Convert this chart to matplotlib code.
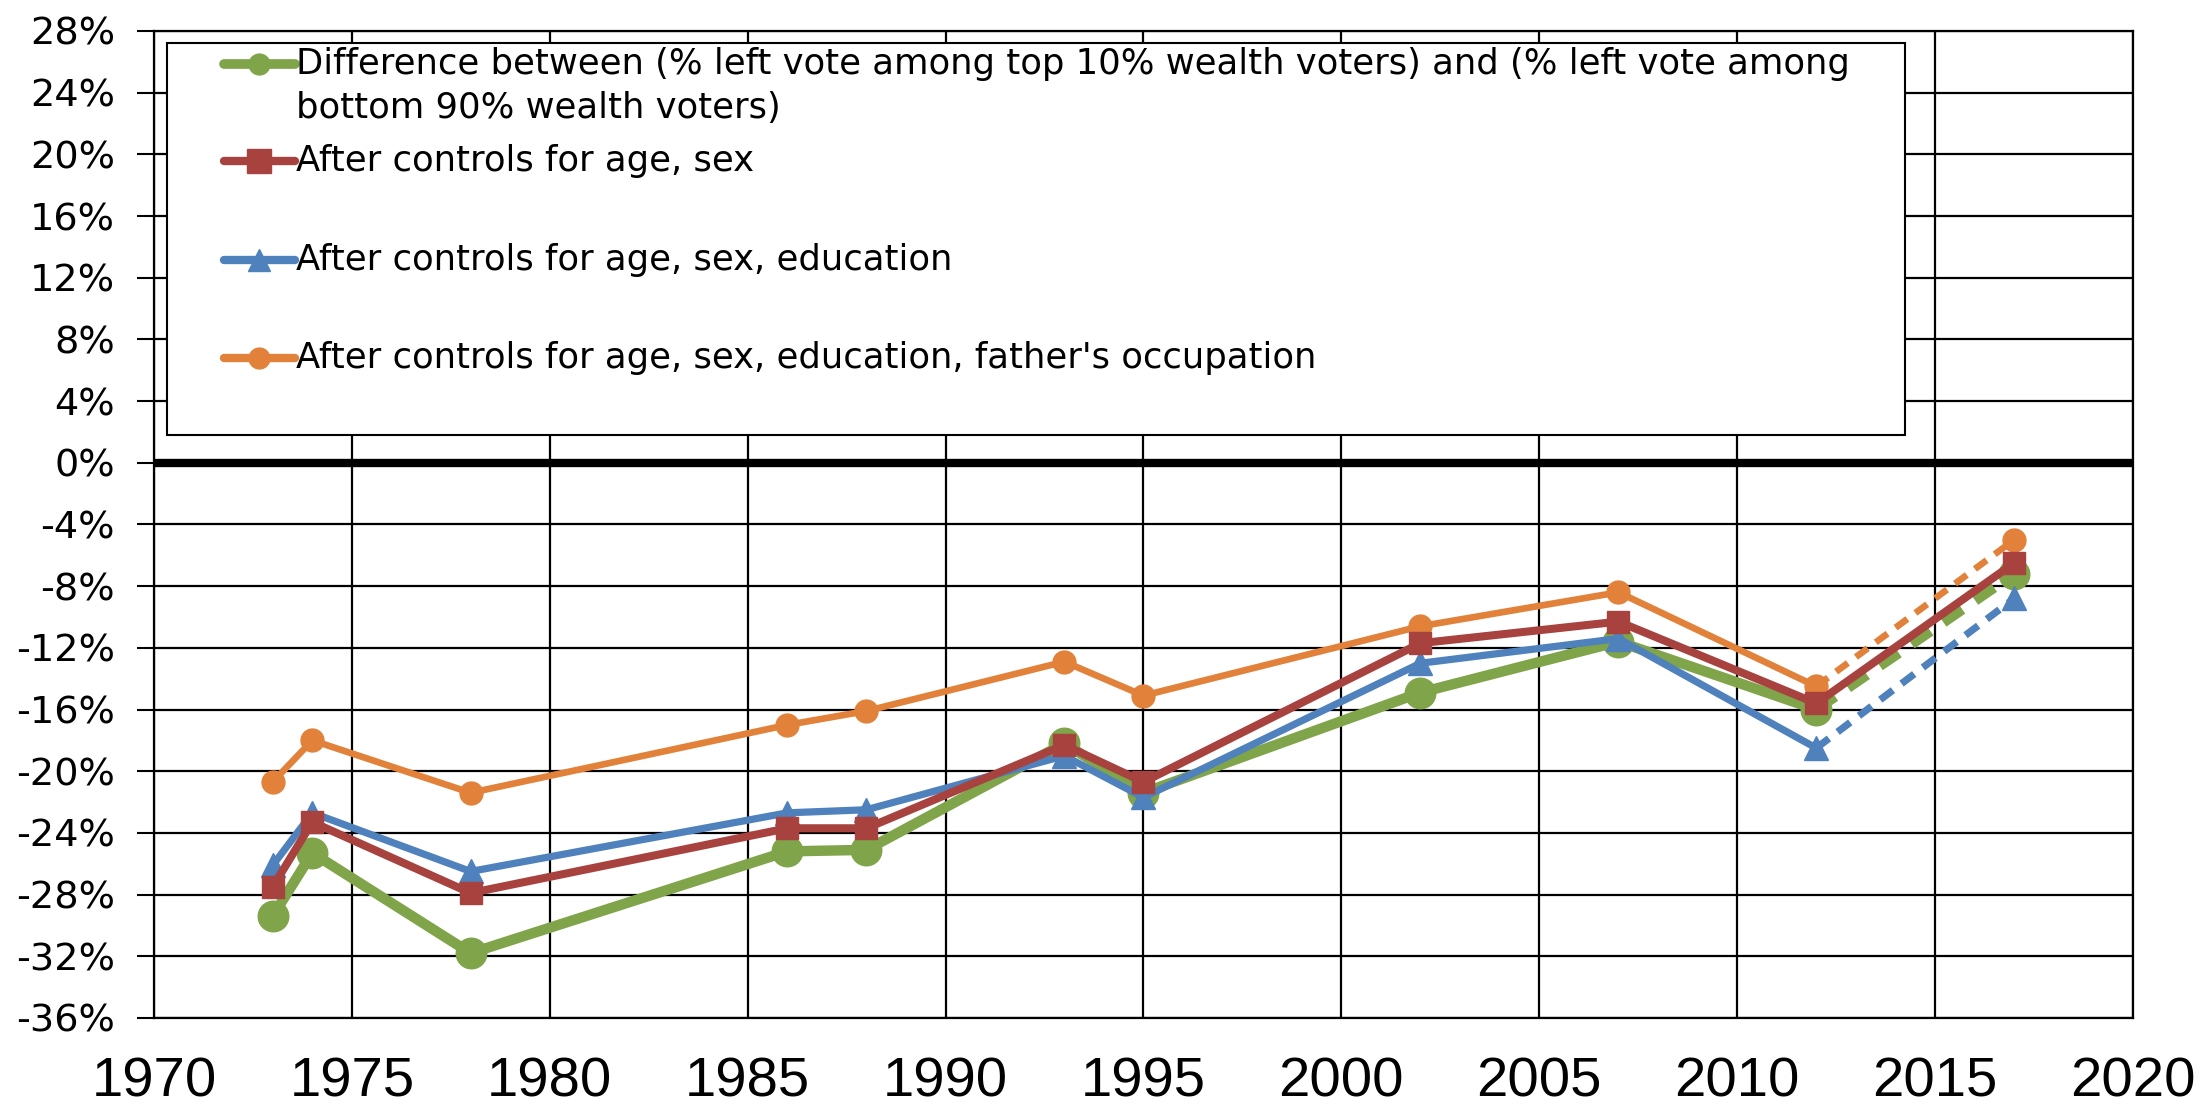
import matplotlib
matplotlib.use("Agg")
import matplotlib.pyplot as plt
from matplotlib.patches import Rectangle
from matplotlib.ticker import FuncFormatter, MultipleLocator

plt.rcParams['font.family'] = ['Liberation Sans', 'DejaVu Sans']
plt.rcParams['axes.unicode_minus'] = False

years = [1973, 1974, 1978, 1986, 1988, 1993, 1995, 2002, 2007, 2012, 2017]
diff_raw = [-29.4, -25.3, -31.8, -25.2, -25.1, -18.2, -21.4, -14.9, -11.6, -16.0, -7.2]
ctrl_age_sex = [-27.5, -23.3, -27.9, -23.7, -23.7, -18.3, -20.7, -11.7, -10.3, -15.6, -6.5]
ctrl_age_sex_edu = [-26.1, -22.7, -26.5, -22.7, -22.5, -19.0, -21.7, -13.0, -11.4, -18.5, -8.8]
ctrl_full = [-20.7, -18.0, -21.4, -17.0, -16.1, -12.9, -15.1, -10.6, -8.4, -14.5, -5.0]

labels = [
    "Difference between (% left vote among top 10% wealth voters) and (% left vote among\nbottom 90% wealth voters)",
    "After controls for age, sex",
    "After controls for age, sex, education",
    "After controls for age, sex, education, father's occupation",
]
colors = ['#7FA449', '#A8423F', '#4F81BD', '#E2823A']
markers = ['o', 's', '^', 'o']
msizes = [22, 16.5, 17.5, 16.5]
lws = [7.5, 5.8, 5.2, 4.8]
zorders = [3, 6, 5, 4]
dashed_last = [True, False, True, True]
series = [diff_raw, ctrl_age_sex, ctrl_age_sex_edu, ctrl_full]

fig = plt.figure(figsize=(22, 11.09), dpi=100)
ax = fig.add_axes([0.070, 0.0821, 0.8995, 0.890])

ax.set_xlim(1970, 2020)
ax.set_ylim(-36, 28)
ax.xaxis.set_major_locator(MultipleLocator(5))
ax.yaxis.set_major_locator(MultipleLocator(4))
ax.yaxis.set_major_formatter(FuncFormatter(lambda v, p: f"{v:.0f}%"))
ax.grid(True, color='black', linewidth=1.6, zorder=0)
ax.set_axisbelow(True)
for s in ax.spines.values():
    s.set_color('black')
    s.set_linewidth(1.6)
ax.tick_params(axis='y', length=12, width=1.5, pad=16, labelsize=27.5)
ax.tick_params(axis='x', length=0, pad=28, labelsize=40.5)
for t in ax.get_yticklabels():
    t.set_fontfamily(['DejaVu Sans'])
ax.axhline(0, color='black', linewidth=6, zorder=2)

for vals, c, m, ms, lw, z, dl in zip(series, colors, markers, msizes, lws, zorders, dashed_last):
    if dl:
        ax.plot(years[:-1], vals[:-1], color=c, marker=m, markersize=ms, linewidth=lw,
                markeredgecolor=c, zorder=z)
        ax.plot(years[-2:], vals[-2:], color=c, linewidth=lw, dashes=(2.2, 1.5), zorder=z)
        ax.plot(years[-1:], vals[-1:], color=c, marker=m, markersize=ms, linestyle='none',
                markeredgecolor=c, zorder=z)
    else:
        ax.plot(years, vals, color=c, marker=m, markersize=ms, linewidth=lw,
                markeredgecolor=c, zorder=z)

# legend box drawn in axes coordinates
ax.add_patch(Rectangle((0.0066, 0.591), 0.8784, 0.397, transform=ax.transAxes,
                       facecolor='white', edgecolor='black', linewidth=1.5, zorder=7))
leg_y = [0.966, 0.868, 0.768, 0.669]
leg_ms = [15, 17, 16, 15]
leg_lw = [7, 6, 6, 6]
for lab, c, m, ms, lw, y in zip(labels, colors, markers, leg_ms, leg_lw, leg_y):
    ax.plot([0.0356, 0.0711], [y, y], transform=ax.transAxes, color=c, linewidth=lw,
            solid_capstyle='round', clip_on=False, zorder=8)
    ax.plot([0.0533], [y], transform=ax.transAxes, color=c, marker=m, markersize=ms,
            markeredgecolor=c, clip_on=False, zorder=8)
    lines = lab.split("\n")
    for i, t in enumerate(lines):
        ax.text(0.0718, y - i * 0.044, t, transform=ax.transAxes, ha='left', va='center',
                fontsize=25.5, family=['DejaVu Sans'], zorder=9)

fig.savefig("out.png", dpi=100)
